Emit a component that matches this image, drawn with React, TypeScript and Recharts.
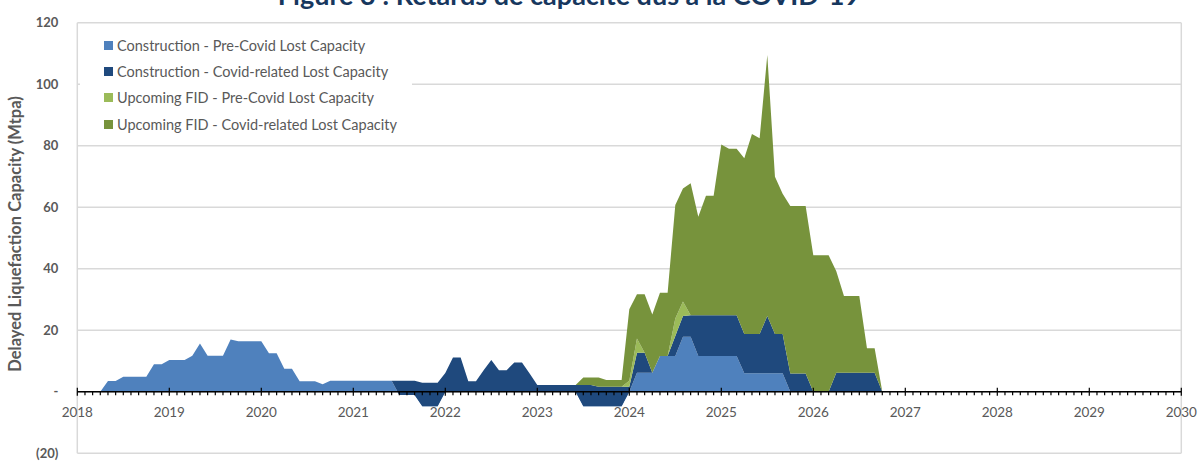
import { AreaChart, Area, XAxis, YAxis, CartesianGrid, ReferenceLine, Legend } from 'recharts';

const FONT = 'Lato, "Open Sans", sans-serif';
const GREY = '#595959';

const years = [2018, 2019, 2020, 2021, 2022, 2023, 2024, 2025, 2026, 2027, 2028, 2029, 2030];
const valueTicks = [-20, 0, 20, 40, 60, 80, 100, 120];

// Monthly delayed capacity (Mtpa), one row per year starting Jan 2018
const constructionPreCovid = [
  0, 0, 0, 0, 3.5, 3.5, 4.9, 4.9, 4.9, 4.9, 8.9, 8.9,
  10.3, 10.3, 10.3, 11.7, 15.7, 11.7, 11.7, 11.7, 17.0, 16.4, 16.4, 16.4,
  16.4, 12.5, 12.5, 7.5, 7.5, 3.4, 3.4, 3.4, 2.4, 3.6, 3.6, 3.6,
  3.6, 3.6, 3.6, 3.6, 3.6, 3.6, -1.1, -1.1, -1.1, -4.7, -4.7, -4.7,
  0, 0, 0, 0, 0, 0, 0, 0, 0, 0, 0, 0,
  0, 0, 0, 0, 0, 0, -4.7, -4.7, -4.7, -4.7, -4.7, -4.7,
  0, 6.2, 6.2, 6.2, 11.6, 11.6, 11.6, 17.9, 17.9, 11.6, 11.6, 11.6,
  11.6, 11.6, 11.6, 6.0, 6.0, 6.0, 6.0, 6.0, 6.0, 0, 0, 0,
  0, 0, 0, 0, 0, 0, 0, 0, 0, 0, 0,
];

const constructionCovid = [
  0, 0, 0, 0, 0, 0, 0, 0, 0, 0, 0, 0,
  0, 0, 0, 0, 0, 0, 0, 0, 0, 0, 0, 0,
  0, 0, 0, 0, 0, 0, 0, 0, 0, 0, 0, 0,
  0, 0, 0, 0, 0, 0, 4.7, 4.7, 4.7, 7.6, 7.6, 7.6,
  6.1, 11.1, 11.1, 3.4, 3.4, 7.0, 10.3, 7.0, 7.0, 9.5, 9.5, 5.9,
  2.2, 2.2, 2.2, 2.2, 2.2, 2.2, 6.9, 6.9, 6.3, 6.3, 6.3, 6.3,
  1.6, 6.5, 6.5, 0, 0, 0, 6.5, 6.7, 7.0, 13.3, 13.3, 13.3,
  13.3, 13.3, 13.3, 12.8, 12.8, 12.8, 18.6, 12.8, 12.8, 5.9, 5.9, 5.9,
  0, 0, 0, 6.2, 6.2, 6.2, 6.2, 6.2, 6.2, 0, 0,
];

const fidPreCovid = [
  0, 0, 0, 0, 0, 0, 0, 0, 0, 0, 0, 0,
  0, 0, 0, 0, 0, 0, 0, 0, 0, 0, 0, 0,
  0, 0, 0, 0, 0, 0, 0, 0, 0, 0, 0, 0,
  0, 0, 0, 0, 0, 0, 0, 0, 0, 0, 0, 0,
  0, 0, 0, 0, 0, 0, 0, 0, 0, 0, 0, 0,
  0, 0, 0, 0, 0, 0, 0, 0, 0, 0, 0, 0,
  2.0, 4.6, 0, 0, 0, 0, 5.7, 4.7, 0, 0, 0, 0,
  0, 0, 0, 0, 0, 0, 0, 0, 0, 0, 0, 0,
  0, 0, 0, 0, 0, 0, 0, 0, 0, 0, 0,
];

const fidCovid = [
  0, 0, 0, 0, 0, 0, 0, 0, 0, 0, 0, 0,
  0, 0, 0, 0, 0, 0, 0, 0, 0, 0, 0, 0,
  0, 0, 0, 0, 0, 0, 0, 0, 0, 0, 0, 0,
  0, 0, 0, 0, 0, 0, 0, 0, 0, 0, 0, 0,
  0, 0, 0, 0, 0, 0, 0, 0, 0, 0, 0, 0,
  0, 0, 0, 0, 0, 0, 2.4, 2.4, 3.0, 2.2, 2.2, 2.2,
  23.2, 14.4, 19.0, 18.9, 20.6, 20.6, 36.9, 36.8, 42.9, 32.0, 38.8, 38.8,
  55.5, 54.1, 54.1, 57.1, 65.0, 63.6, 84.9, 51.1, 45.6, 54.5, 54.5, 54.5,
  44.4, 44.4, 44.4, 33.0, 24.9, 24.9, 24.9, 7.9, 7.9, 0, 0,
];

const series = [
  { key: 'constructionPre', name: 'Construction - Pre-Covid Lost Capacity', color: '#4F81BD' },
  { key: 'constructionCovid', name: 'Construction - Covid-related Lost Capacity', color: '#1F497D' },
  { key: 'fidPre', name: 'Upcoming FID - Pre-Covid Lost Capacity', color: '#9BBB59' },
  { key: 'fidCovid', name: 'Upcoming FID - Covid-related Lost Capacity', color: '#77933C' },
];

const data = constructionPreCovid.map((v, i) => ({
  t: 2018 + i / 12,
  constructionPre: v,
  constructionCovid: constructionCovid[i],
  fidPre: fidPreCovid[i],
  fidCovid: fidCovid[i],
}));

const formatValue = (v: number) => (v === 0 ? '-' : v < 0 ? `(${-v})` : `${v}`);

function ValueTick({ x, y, payload }: any) {
  return (
    <text x={x} y={y} dy={4.5} textAnchor="end" fontFamily={FONT} fontSize={13} fontWeight={700} fill={GREY}>
      {formatValue(payload.value)}
    </text>
  );
}

// x axis drawn on the zero line: monthly minor ticks, yearly major ticks and labels
function ZeroAxis({ x1, x2, y1 }: any) {
  const first = years[0];
  const span = years[years.length - 1] - first;
  const px = (t: number) => x1 + ((t - first) / span) * (x2 - x1);
  const months = Array.from({ length: span * 12 + 1 }, (_, i) => i);
  return (
    <g>
      {months.map((i) => {
        const x = px(first + i / 12);
        const major = i % 12 === 0;
        return (
          <line key={i} x1={x} x2={x} y1={major ? y1 - 4 : y1} y2={y1 + (major ? 4 : 3.5)} stroke="#000" strokeWidth={1.2} />
        );
      })}
      <line x1={x1} x2={x2} y1={y1} y2={y1} stroke="#000" strokeWidth={1.5} />
      {years.map((yr) => (
        <text key={yr} x={px(yr)} y={y1 + 25} textAnchor="middle" fontFamily={FONT} fontSize={13.5} fill={GREY}>
          {yr}
        </text>
      ))}
    </g>
  );
}

// legend keeps the stacking order of the series
function LegendBox({ payload }: any) {
  const items = series.filter((s) => (payload || []).some((p: any) => p.dataKey === s.key));
  return (
    <div style={{ background: '#fff', padding: '0 0 1px 24px', fontFamily: FONT, fontSize: 14.5, color: GREY }}>
      {items.map((s) => (
        <div key={s.key} style={{ display: 'flex', alignItems: 'center', height: 26.3, whiteSpace: 'nowrap' }}>
          <span style={{ display: 'inline-block', width: 9, height: 9, background: s.color, marginRight: 4 }} />
          <span>{s.name}</span>
        </div>
      ))}
    </div>
  );
}

function AxisTitle({ viewBox }: any) {
  const cx = viewBox.x + 15;
  const cy = viewBox.y + viewBox.height / 2 - 4;
  return (
    <text x={cx} y={cy} transform={`rotate(-90 ${cx} ${cy})`} textAnchor="middle" dominantBaseline="central"
      fontFamily={FONT} fontSize={16.5} fontWeight={700} fill={GREY}>
      Delayed Liquefaction Capacity (Mtpa)
    </text>
  );
}

export default function App() {
  return (
    <div style={{ position: 'absolute', left: 0, top: 0, background: '#fff' }}>
      <AreaChart width={1201} height={463} data={data} margin={{ top: 22.7, right: 19.7, bottom: 9.8, left: 0 }}>
        <text x={569} y={5} textAnchor="middle" fontFamily={FONT} fontSize={27} fontWeight={700} fill="#17375E">
          Figure 3 : Retards de capacité dus à la COVID-19
        </text>
        <CartesianGrid stroke="#D9D9D9" strokeWidth={1.5} />
        <XAxis dataKey="t" type="number" domain={[2018, 2030]} ticks={years} tick={false} axisLine={false} tickLine={false} height={0} />
        <YAxis
          type="number"
          domain={[-20, 120]}
          ticks={valueTicks}
          width={77.3}
          axisLine={false}
          tickLine={false}
          tickSize={0}
          tickMargin={19}
          tick={<ValueTick />}
          label={<AxisTitle />}
        />
        {series.map((s) => (
          <Area
            key={s.key}
            type="linear"
            dataKey={s.key}
            name={s.name}
            stackId="capacity"
            stroke="none"
            fill={s.color}
            fillOpacity={1}
            isAnimationActive={false}
          />
        ))}
        <ReferenceLine y={0} shape={(props: any) => <ZeroAxis {...props} />} />
        <Legend
          layout="horizontal"
          verticalAlign="middle"
          align="center"
          content={<LegendBox />}
          wrapperStyle={{ left: 80, top: 32, width: 332 }}
        />
      </AreaChart>
    </div>
  );
}
